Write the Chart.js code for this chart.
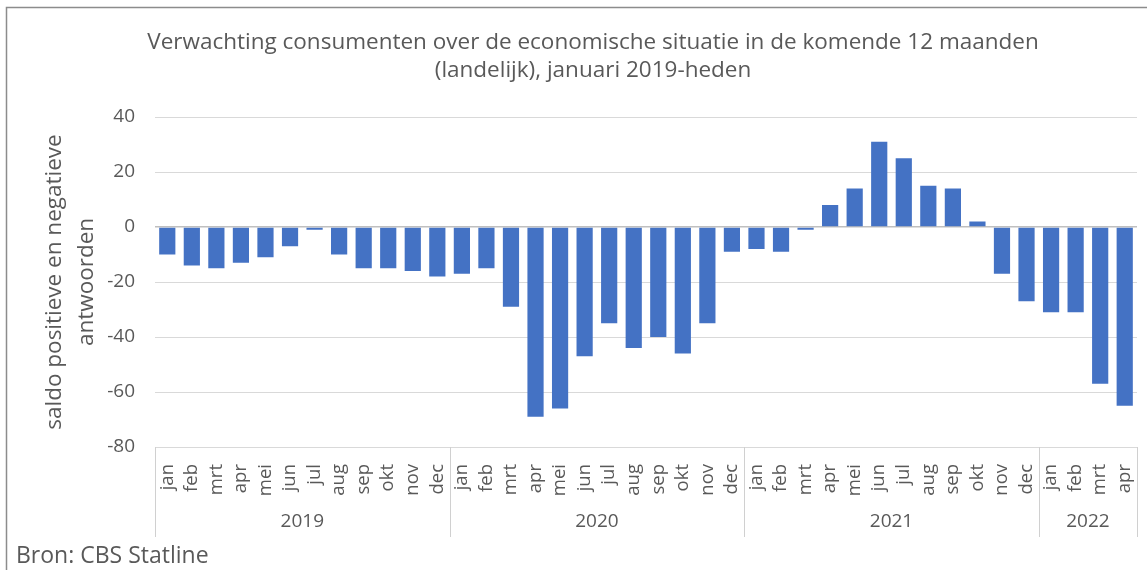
<!DOCTYPE html>
<html>
<head>
<meta charset="utf-8">
<script src="https://cdn.jsdelivr.net/npm/chart.js@4.4.1/dist/chart.umd.min.js"></script>
<style>
  html, body { margin: 0; padding: 0; background: #fff; }
  #wrap { width: 1147px; height: 570px; position: relative; }
</style>
</head>
<body>
<div id="wrap"><canvas id="chart"></canvas></div>
<script>
// Data
const monthLabels = [
  'jan','feb','mrt','apr','mei','jun','jul','aug','sep','okt','nov','dec',
  'jan','feb','mrt','apr','mei','jun','jul','aug','sep','okt','nov','dec',
  'jan','feb','mrt','apr','mei','jun','jul','aug','sep','okt','nov','dec',
  'jan','feb','mrt','apr'
];
const years = ['2019', '2020', '2021', '2022'];
const monthsPerYear = [12, 12, 12, 4];
const saldo = [
  -10, -14, -15, -13, -11, -7, -1, -10, -15, -15, -16, -18,
  -17, -15, -29, -69, -66, -47, -35, -44, -40, -46, -35, -9,
  -8, -9, -1, 8, 14, 31, 25, 15, 14, 2, -17, -27,
  -31, -31, -57, -65
];
const titleLines = [
  'Verwachting consumenten over de economische situatie in de komende 12 maanden',
  '(landelijk), januari 2019-heden'
];
const yTitle = ['saldo positieve en negatieve', 'antwoorden'];
const sourceText = 'Bron: CBS Statline';

const FONT = "'Open Sans', sans-serif";
const TEXT_COLOR = '#595959';

// Titel, jaartallen, scheidingslijnen en rand
const decorPlugin = {
    id: 'decor',
    afterDraw(chart) {
        const ctx = chart.ctx;
        const x = chart.scales.x;
        ctx.save();

        // rand links en boven
        ctx.strokeStyle = '#8c8c8c';
        ctx.lineWidth = 1.5;
        ctx.beginPath();
        ctx.moveTo(6.5, 570);
        ctx.lineTo(6.5, 7.5);
        ctx.lineTo(1147, 7.5);
        ctx.stroke();

        // titel
        ctx.fillStyle = TEXT_COLOR;
        ctx.font = '22.5px ' + FONT;
        ctx.textAlign = 'center';
        ctx.textBaseline = 'middle';
        ctx.fillText(titleLines[0], 593, 43);
        ctx.fillText(titleLines[1], 593, 71);

        // jaartallen met scheidingslijnen
        const half = (x.getPixelForTick(1) - x.getPixelForTick(0)) / 2;
        let start = 0;
        const bottom = chart.chartArea.bottom;
        ctx.strokeStyle = '#d0d0d0';
        ctx.lineWidth = 1;
        ctx.font = '19px ' + FONT;
        for (let i = 0; i < years.length; i++) {
            const end = start + monthsPerYear[i] - 1;
            const left = x.getPixelForTick(start) - half;
            const right = x.getPixelForTick(end) + half;
            ctx.fillText(years[i], (left + right) / 2, 522);
            [left, right].forEach(px => {
                ctx.beginPath();
                ctx.moveTo(Math.round(px) + 0.5, bottom);
                ctx.lineTo(Math.round(px) + 0.5, 537);
                ctx.stroke();
            });
            start = end + 1;
        }

        // bron
        ctx.textAlign = 'left';
        ctx.font = '23px ' + FONT;
        ctx.fillText(sourceText, 16, 556);
        ctx.restore();
    }
};

const ctx = document.getElementById('chart').getContext('2d');
new Chart(ctx, {
    type: 'bar',
    data: {
        labels: monthLabels,
        datasets: [{
            label: 'saldo',
            data: saldo,
            backgroundColor: '#4472C4',
            borderWidth: 0,
            barPercentage: 0.66,
            categoryPercentage: 1.0
        }]
    },
    options: {
        responsive: true,
        maintainAspectRatio: false,
        animation: false,
        layout: {
            padding: { left: 10, right: 10, top: 117, bottom: 0 }
        },
        plugins: {
            legend: { display: false },
            tooltip: { enabled: false },
            title: { display: false }
        },
        scales: {
            x: {
                grid: { display: false },
                border: { display: false },
                afterFit(scale) {
                    scale.height = 123;
                    scale.paddingLeft = 0;
                    scale.paddingRight = 0;
                },
                ticks: {
                    color: TEXT_COLOR,
                    font: { family: FONT, size: 18.5 },
                    minRotation: 90,
                    maxRotation: 90,
                    autoSkip: false,
                    padding: 9
                }
            },
            y: {
                min: -80,
                max: 40,
                border: { display: false },
                afterFit(scale) { scale.width = 145; },
                grid: {
                    drawTicks: false,
                    color: c => c.tick && c.tick.value === 0 ? '#bfbfbf' : '#d9d9d9',
                    lineWidth: c => c.tick && c.tick.value === 0 ? 1.5 : 1
                },
                ticks: {
                    stepSize: 20,
                    color: TEXT_COLOR,
                    font: { family: FONT, size: 19 },
                    padding: 20
                },
                title: {
                    display: true,
                    text: yTitle,
                    color: TEXT_COLOR,
                    font: { family: FONT, size: 22.5, lineHeight: 1.42 },
                    padding: { top: 29, bottom: 0 }
                }
            }
        }
    },
    plugins: [decorPlugin]
});
</script>
</body>
</html>
